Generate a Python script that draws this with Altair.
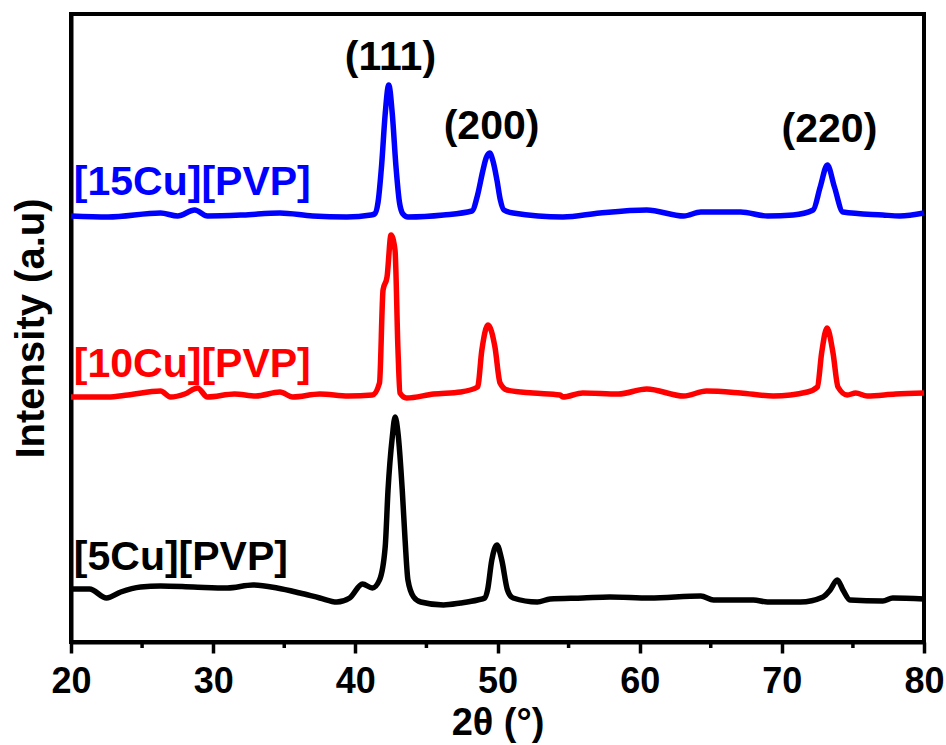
import altair as alt
import pandas as pd

# XRD patterns of Cu/PVP samples (stacked, arbitrary units)
tt_5 = [20.0, 21.3, 22.5, 23.5, 24.9, 26.3, 28.6, 31.0, 32.8, 34.5, 36.1, 37.5, 38.7, 39.6,
        40.5, 41.2, 41.7, 42.1, 42.3, 42.6, 42.8, 43.0, 43.3, 43.5, 43.7, 44.1, 44.6, 46.2,
        47.4, 48.6, 49.1, 49.3, 49.6, 49.96, 50.3, 50.7, 51.1, 52.8, 53.7, 56.0, 57.9, 60.7,
        64.3, 65.2, 68.0, 69.0, 71.3, 72.9, 73.4, 73.9, 74.3, 74.8, 77.1, 77.8, 80.0]
int_5 = [53, 53, 44, 50, 55, 56, 55, 54, 57, 54, 49, 44, 40, 44,
         58, 54, 62, 95, 152, 205, 225, 209, 152, 102, 62, 45, 40, 37,
         39, 42, 44, 52, 82, 97, 82, 52, 44, 40, 43, 44, 45, 44,
         46, 42, 42, 40, 40, 45, 52, 62, 52, 42, 41, 44, 43]

tt_10 = [20.0, 22.6, 24.0, 26.3, 27.0, 28.0, 28.9, 29.6, 31.5, 33.0, 34.7, 35.6, 37.5, 39.5,
         41.2, 41.7, 41.95, 42.23, 42.51, 42.79, 43.0, 43.14, 43.6, 45.5, 47.4, 48.6, 48.9,
         49.33, 49.82, 50.18, 50.67, 52.5, 54.4, 54.6, 56.0, 58.5, 60.5, 63.1, 64.7, 67.1,
         69.4, 71.8, 72.5, 72.8, 73.18, 73.6, 73.95, 74.6, 75.2, 76.0, 78.0, 80.0]
int_10 = [245, 245, 247, 251, 245, 248, 254, 245, 248, 246, 250, 245, 248, 246,
          247, 259, 352, 365, 407, 392, 292, 249, 244, 248, 250, 255, 292,
          317, 295, 259, 252, 249, 247, 245, 249, 248, 253, 246, 251, 249,
          246, 250, 255, 289, 314, 289, 255, 247, 249, 246, 248, 249]

tt_15 = [20.0, 22.6, 26.3, 27.5, 28.7, 29.6, 32.1, 34.7, 37.0, 39.4, 41.1, 41.35, 41.6, 41.85,
         42.1, 42.35, 42.6, 42.85, 43.1, 43.35, 43.7, 46.2, 48.2, 48.6, 48.95, 49.2, 49.45,
         49.7, 49.96, 50.2, 50.45, 51.1, 54.6, 57.2, 60.5, 63.1, 64.3, 67.1, 69.0, 70.8, 72.2,
         72.7, 73.2, 73.7, 74.3, 77.1, 78.3, 80.0]
int_15 = [426, 425, 429, 426, 432, 426, 427, 429, 426, 425, 427, 428, 440, 477,
          528, 557, 528, 477, 440, 428, 425, 427, 431, 447, 470, 484, 489,
          480, 462, 442, 432, 429, 425, 429, 432, 426, 430, 430, 426, 427, 432,
          455, 477, 455, 430, 427, 426, 429]

samples = ["[5Cu][PVP]", "[10Cu][PVP]", "[15Cu][PVP]"]
colors = ["#000000", "#FF0000", "#0000FF"]

# sample labels: text, 2theta of left edge, intensity of baseline
label_x = [20.2, 20.2, 20.2]
label_y = [72, 265, 447]

# reflection indices
hkl = ["(111)", "(200)", "(220)"]
hkl_x = [42.47, 49.58, 73.35]
hkl_y = [572, 503, 500]

minor_ticks = [25, 35, 45, 55, 65, 75]

FONT = "Liberation Sans"

frames = []
for name, tt, inten in zip(samples, [tt_5, tt_10, tt_15], [int_5, int_10, int_15]):
    frames.append(pd.DataFrame({"two_theta": tt, "intensity": inten, "sample": name}))
curves = pd.concat(frames, ignore_index=True)

x_scale = alt.Scale(domain=[20, 80], nice=False, zero=False)
y_scale = alt.Scale(domain=[0, 628], nice=False, zero=False)

lines = alt.Chart(curves).mark_line(strokeWidth=5.5, interpolate="monotone").encode(
    x=alt.X("two_theta:Q", scale=x_scale,
            axis=alt.Axis(title="2θ (°)", values=[20, 30, 40, 50, 60, 70, 80],
                          format="d", grid=False, domainWidth=4, domainColor="black",
                          tickWidth=3.5, tickSize=11, tickColor="black",
                          labelFont=FONT, labelFontSize=36, labelFontWeight="bold",
                          labelColor="black", labelPadding=11, labelFlush=False,
                          titleFont=FONT, titleFontSize=38, titleFontWeight="bold",
                          titleColor="black", titlePadding=5)),
    y=alt.Y("intensity:Q", scale=y_scale,
            axis=alt.Axis(title="Intensity (a.u)", labels=False, ticks=False, grid=False,
                          domainWidth=4, domainColor="black",
                          titleFont=FONT, titleFontSize=40, titleFontWeight="bold",
                          titleColor="black", titlePadding=20)),
    color=alt.Color("sample:N", scale=alt.Scale(domain=samples, range=colors), legend=None),
    detail="sample:N",
)

minor = alt.Chart(pd.DataFrame({"t": minor_ticks})).mark_rule(
    color="black", strokeWidth=3.5
).encode(
    x=alt.X("t:Q", scale=x_scale),
    y=alt.value(628),
    y2=alt.value(634),
)

sample_labels = alt.Chart(pd.DataFrame({
    "text": samples, "x": label_x, "y": label_y, "c": colors
})).mark_text(
    align="left", baseline="alphabetic", font=FONT, fontSize=41, fontWeight="bold"
).encode(
    x=alt.X("x:Q", scale=x_scale),
    y=alt.Y("y:Q", scale=y_scale),
    text="text:N",
    color=alt.Color("c:N", scale=None),
)

hkl_labels = alt.Chart(pd.DataFrame({"text": hkl, "x": hkl_x, "y": hkl_y})).mark_text(
    align="center", baseline="alphabetic", font=FONT, fontSize=41, fontWeight="bold",
    color="black"
).encode(
    x=alt.X("x:Q", scale=x_scale),
    y=alt.Y("y:Q", scale=y_scale),
    text="text:N",
)

chart = alt.layer(lines, minor, sample_labels, hkl_labels).properties(
    width=853,
    height=628,
    padding={"left": 71, "top": 14, "right": 22, "bottom": 103},
    autosize=alt.AutoSizeParams(type="none"),
    background="white",
).configure_view(stroke="black", strokeWidth=4)

chart.save("out.html", embed_options={"renderer": "svg", "actions": False})
